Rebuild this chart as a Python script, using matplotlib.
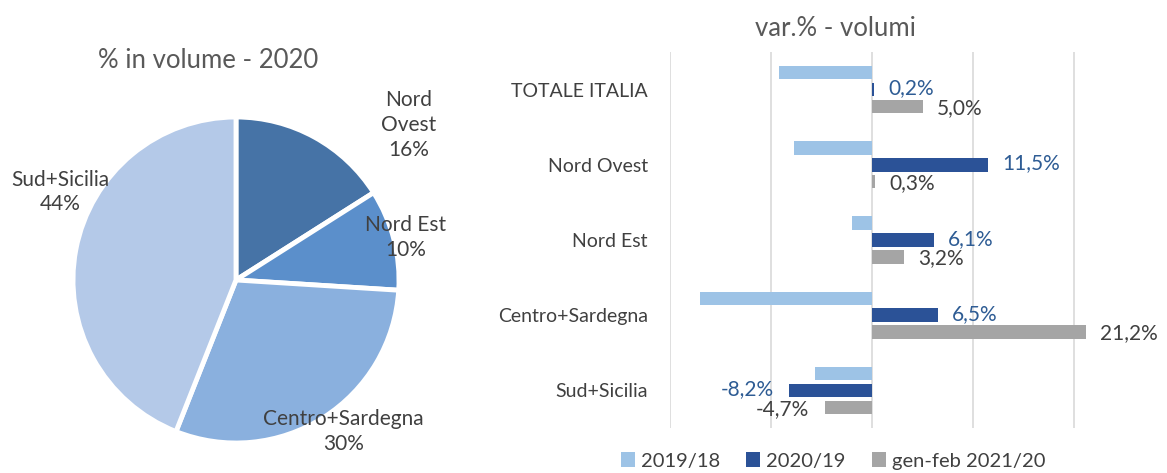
import matplotlib
matplotlib.use("Agg")
import matplotlib.pyplot as plt
from matplotlib.patches import Patch
import numpy as np

# pie data
pie_labels = ["Nord\nOvest", "Nord Est", "Centro+Sardegna", "Sud+Sicilia"]
pie_values = [16, 10, 30, 44]
pie_colors = ["#4673A6", "#5B8FCB", "#8AB0DE", "#B4C9E8"]

# bar data
categories = ["TOTALE ITALIA", "Nord Ovest", "Nord Est", "Centro+Sardegna", "Sud+Sicilia"]
var_2019_18 = [-9.2, -7.7, -2.0, -17.0, -5.6]
var_2020_19 = [0.2, 11.5, 6.1, 6.5, -8.2]
var_genfeb_2021_20 = [5.0, 0.3, 3.2, 21.2, -4.7]
series_names = ["2019/18", "2020/19", "gen-feb 2021/20"]
bar_colors = ["#9DC3E6", "#2B5297", "#A5A5A5"]

plt.rcParams['font.family'] = ['Lato', 'DejaVu Sans']
text_col = "#404040"
title_col = "#595959"

W, H = 1167, 473
fig = plt.figure(figsize=(W / 100, H / 100), dpi=100)

def px(x0, y0, x1, y1):
    return [x0 / W, 1 - y1 / H, (x1 - x0) / W, (y1 - y0) / H]

# ---- pie ----
ax1 = fig.add_axes(px(73, 117, 399, 443))
ax1.pie(pie_values, colors=pie_colors, startangle=90, counterclock=False,
        wedgeprops=dict(edgecolor="white", linewidth=3.5), radius=1)
ax1.set_xlim(-1.0, 1.0)
ax1.set_ylim(-1.0, 1.0)
ax1.set_aspect("equal")

label_pos = [(1.06, 0.95), (1.04, 0.26), (0.66, -0.93), (-1.08, 0.54)]
for lab, val, (lx, ly) in zip(pie_labels, pie_values, label_pos):
    ax1.text(lx, ly, f"{lab}\n{val}%", ha="center", va="center",
             fontsize=15, color=text_col, linespacing=1.3, clip_on=False)

fig.text(208 / W, 1 - 60 / H, "% in volume - 2020", ha="center", va="center",
         fontsize=18.5, color=title_col)

# ---- bars ----
ax2 = fig.add_axes(px(670, 52, 1164, 428))
y = np.arange(len(categories))
step = 0.225
h = 0.18
series = [var_2019_18, var_2020_19, var_genfeb_2021_20]
for i, (vals, c) in enumerate(zip(series, bar_colors)):
    ax2.barh(y + (i - 1) * step, vals, height=h, color=c, zorder=3)

label_cols = [None, "#2E5C94", text_col]
for i in (1, 2):
    for yi, v in zip(y, series[i]):
        off = 10 if v >= 0 else -11
        ax2.annotate(f"{v:.1f}%".replace(".", ","), (v, yi + (i - 1) * step),
                     xytext=(off, 1 if i == 1 else -1), textcoords="offset points",
                     ha="left" if v >= 0 else "right", va="center",
                     fontsize=15, color=label_cols[i], annotation_clip=False)

ax2.set_xlim(-20, 28.9)
ax2.set_ylim(len(categories) - 0.5, -0.5)
ax2.set_xticks([-20, -10, 0, 10, 20])
ax2.set_xticklabels([])
ax2.grid(axis="x", color="#D9D9D9", linewidth=1.2, zorder=0)
ax2.set_yticks(y)
ax2.set_yticklabels(categories, fontsize=14, color=text_col)
ax2.tick_params(length=0, pad=16)
for s in ax2.spines.values():
    s.set_visible(False)

fig.text(835 / W, 1 - 28 / H, "var.% - volumi", ha="center", va="center",
         fontsize=18.5, color=title_col)

handles = [Patch(facecolor=c, edgecolor="none") for c in bar_colors]
fig.legend(handles, series_names, loc="center", bbox_to_anchor=(833 / W, 1 - 461 / H),
           ncol=3, frameon=False, fontsize=14.5, labelcolor=text_col,
           handlelength=0.7, handleheight=0.7, handletextpad=0.3,
           columnspacing=1.3)

fig.savefig("out.png", dpi=100)
